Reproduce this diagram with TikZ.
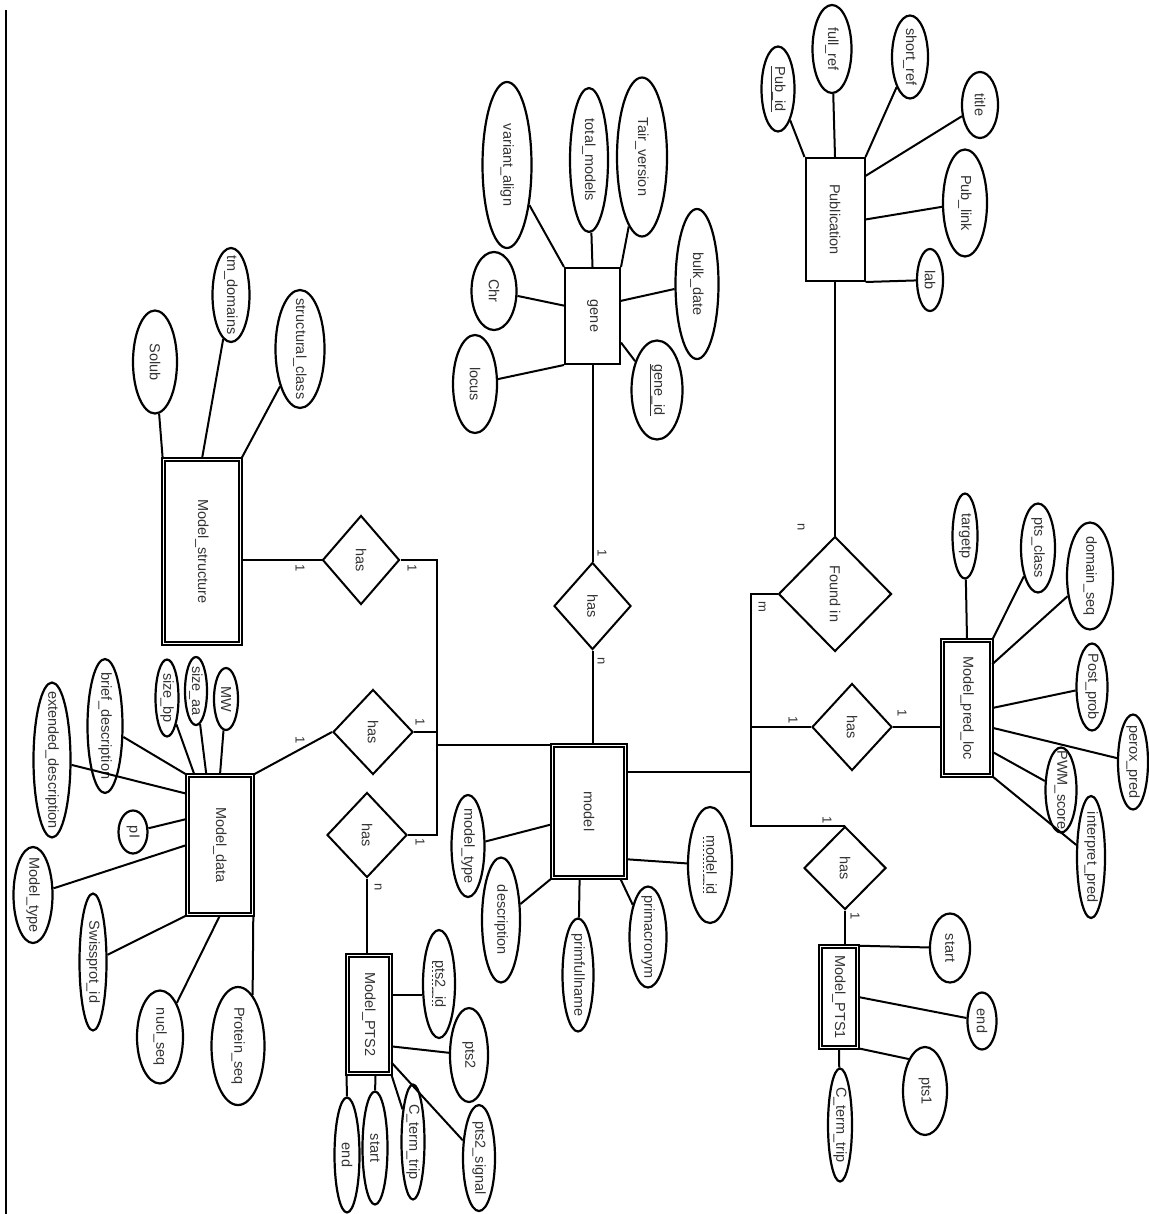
\documentclass[tikz,border=0pt]{standalone}
\usepackage{fontspec}
\setmainfont{Liberation Sans}
\usepackage{tikz}
\usetikzlibrary{shapes.geometric}

% dashed underline for partial keys
\newcommand{\dashul}[1]{\setbox0=\hbox{#1}\rlap{\raisebox{-3pt}{\hbox to \wd0{\xleaders\hbox to 4pt{\hss\rule{2pt}{0.8pt}\hss}\hfill}}}\box0}

\tikzset{
  vtxt/.style={rotate=-90, inner sep=0pt, text=black!80,
    font=\fontsize{14.5}{16}\selectfont},
  card/.style={vtxt, font=\fontsize{13}{14}\selectfont},
  entity/.style={draw, rectangle, line width=2pt, inner sep=0pt},
  weak/.style={entity, double, double distance=1.8pt, line width=1.6pt},
  attr/.style={draw, ellipse, line width=2.2pt, inner sep=0pt},
  rel/.style={draw, diamond, line width=2pt, inner sep=0pt},
}

\begin{document}
\begin{tikzpicture}[x=1pt, y=-1pt, line width=2pt]
  \useasboundingbox (0,0) rectangle (1148,1214);
  \draw (6,10) -- (6,1214);

  % entities
  \node[weak, minimum width=77, minimum height=184, label={[vtxt]center:Model\_structure}] (mstruct) at (202,551.5) {};
  \node[weak, minimum width=65, minimum height=139, label={[vtxt]center:Model\_data}] (mdata) at (220,845) {};
  \node[weak, minimum width=73, minimum height=132, label={[vtxt]center:model}] (model) at (589,811.5) {};
  \node[weak, minimum width=43, minimum height=118, label={[vtxt]center:Model\_PTS2}] (ptstwo) at (369,1014.5) {};
  \node[weak, minimum width=37, minimum height=101, label={[vtxt]center:Model\_PTS1}] (ptsone) at (839,997) {};
  \node[weak, minimum width=49, minimum height=135, label={[vtxt]center:Model\_pred\_loc}] (predloc) at (967,708) {};
  \node[entity, minimum width=55, minimum height=96, label={[vtxt]center:gene}] (gene) at (592.5,316) {};
  \node[entity, minimum width=59, minimum height=123, label={[vtxt]center:Publication}] (pub) at (835,219.5) {};

  % relationships
  \node[rel, minimum width=77, minimum height=89, label={[vtxt]center:has}] (hasS) at (361,560) {};
  \node[rel, minimum width=80, minimum height=85, label={[vtxt]center:has}] (hasD) at (373,732) {};
  \node[rel, minimum width=80, minimum height=85, label={[vtxt]center:has}] (hasP) at (367,835) {};
  \node[rel, minimum width=77, minimum height=87, label={[vtxt]center:has}] (hasG) at (592.5,606) {};
  \node[rel, minimum width=113, minimum height=115, label={[vtxt]center:Found in}] (found) at (835,594) {};
  \node[rel, minimum width=80, minimum height=87, label={[vtxt]center:has}] (hasL) at (852,727) {};
  \node[rel, minimum width=82, minimum height=83, label={[vtxt]center:has}] (hasT) at (845,868) {};

  % gene attributes
  \node[attr, minimum width=49, minimum height=166, label={[vtxt]center:variant\_align}] (varalign) at (507,165) {};
  \node[attr, minimum width=38, minimum height=144, label={[vtxt]center:total\_models}] (totmod) at (589,160) {};
  \node[attr, minimum width=50, minimum height=159, label={[vtxt]center:Tair\_version}] (tair) at (642,157) {};
  \node[attr, minimum width=45, minimum height=78, label={[vtxt]center:Chr}] (chr) at (494,291) {};
  \node[attr, minimum width=43, minimum height=150, label={[vtxt]center:bulk\_date}] (bulkdate) at (697,284) {};
  \node[attr, minimum width=44, minimum height=98, label={[vtxt]center:locus}] (locus) at (475,384) {};
  \node[attr, minimum width=51, minimum height=99, label={[vtxt]center:{\underline{gene\_id}}}] (geneid) at (657,390) {};

  % publication attributes
  \node[attr, minimum width=33, minimum height=85, label={[vtxt]center:{\underline{Pub\_id}}}] (pubid) at (778,89) {};
  \node[attr, minimum width=39, minimum height=88, label={[vtxt]center:full\_ref}] (fullref) at (832,49) {};
  \node[attr, minimum width=36, minimum height=83, label={[vtxt]center:short\_ref}] (shortref) at (910,57) {};
  \node[attr, minimum width=36, minimum height=66, label={[vtxt]center:title}] (title) at (980,105) {};
  \node[attr, minimum width=44, minimum height=107, label={[vtxt]center:Pub\_link}] (publink) at (965,203) {};
  \node[attr, minimum width=26, minimum height=62, label={[vtxt]center:lab}] (lab) at (930,280) {};

  % structure attributes
  \node[attr, minimum width=44, minimum height=103, label={[vtxt]center:Solub}] (solub) at (155,362) {};
  \node[attr, minimum width=37, minimum height=94, label={[vtxt]center:tm\_domains}] (tmdom) at (231,295) {};
  \node[attr, minimum width=49, minimum height=118, label={[vtxt]center:structural\_class}] (structcls) at (300,349) {};

  % model data attributes
  \node[attr, minimum width=24, minimum height=62, label={[vtxt]center:MW}] (mw) at (226,699) {};
  \node[attr, minimum width=22, minimum height=68, label={[vtxt]center:size\_aa}] (sizeaa) at (196,691) {};
  \node[attr, minimum width=23, minimum height=77, label={[vtxt]center:size\_bp}] (sizebp) at (167,698) {};
  \node[attr, minimum width=35, minimum height=134, label={[vtxt]center:brief\_description}] (briefdesc) at (105,726) {};
  \node[attr, minimum width=37, minimum height=155, label={[vtxt]center:extended\_description}] (extdesc) at (52,760) {};
  \node[attr, minimum width=29, minimum height=43, label={[vtxt]center:pI}] (pi) at (133,832) {};
  \node[attr, minimum width=39, minimum height=96, label={[vtxt]center:Model\_type}] (mtype) at (33,895) {};
  \node[attr, minimum width=27, minimum height=137, label={[vtxt]center:Swissprot\_id}] (swiss) at (93,962) {};
  \node[attr, minimum width=46, minimum height=93, label={[vtxt]center:nucl\_seq}] (nuclseq) at (160,1037) {};
  \node[attr, minimum width=53, minimum height=118, label={[vtxt]center:Protein\_seq}] (protseq) at (238,1046) {};

  % model attributes
  \node[attr, minimum width=33, minimum height=102, label={[vtxt]center:model\_type}] (modeltype) at (468,846) {};
  \node[attr, minimum width=38, minimum height=125, label={[vtxt]center:description}] (descr) at (501,920) {};
  \node[attr, minimum width=31, minimum height=113, label={[vtxt]center:primfullname}] (primfull) at (578,975) {};
  \node[attr, minimum width=37, minimum height=101, label={[vtxt]center:primacronym}] (primacr) at (648,937) {};
  \node[attr, minimum width=44, minimum height=116, label={[vtxt]center:{\dashul{model\_id}}}] (modelid) at (710,865) {};

  % PTS2 attributes
  \node[attr, minimum width=32, minimum height=108, label={[vtxt]center:{\dashul{pts2\_id}}}] (ptstwoid) at (439,984) {};
  \node[attr, minimum width=38, minimum height=94, label={[vtxt]center:pts2}] (ptstwoattr) at (469,1055) {};
  \node[attr, minimum width=32, minimum height=106, label={[vtxt]center:pts2\_signal}] (ptstwosig) at (479,1158) {};
  \node[attr, minimum width=23, minimum height=115, label={[vtxt]center:C\_term\_trip}] (ctermtwo) at (413,1142) {};
  \node[attr, minimum width=25, minimum height=113, label={[vtxt]center:start}] (starttwo) at (375,1148) {};
  \node[attr, minimum width=25, minimum height=115, label={[vtxt]center:end}] (endtwo) at (347,1155) {};

  % PTS1 attributes
  \node[attr, minimum width=40, minimum height=69, label={[vtxt]center:start}] (startone) at (950,948) {};
  \node[attr, minimum width=29, minimum height=57, label={[vtxt]center:end}] (endone) at (982,1021) {};
  \node[attr, minimum width=44, minimum height=88, label={[vtxt]center:pts1}] (ptsoneattr) at (925,1091) {};
  \node[attr, minimum width=24, minimum height=113, label={[vtxt]center:C\_term\_trip}] (ctermone) at (840,1125) {};

  % pred loc attributes
  \node[attr, minimum width=25, minimum height=85, label={[vtxt]center:targetp}] (targetp) at (965,536) {};
  \node[attr, minimum width=34, minimum height=89, label={[vtxt]center:pts\_class}] (ptsclass) at (1038,548) {};
  \node[attr, minimum width=46, minimum height=107, label={[vtxt]center:domain\_seq}] (domseq) at (1090,576) {};
  \node[attr, minimum width=31, minimum height=87, label={[vtxt]center:Post\_prob}] (postprob) at (1092,687) {};
  \node[attr, minimum width=30, minimum height=95, label={[vtxt]center:perox\_pred}] (peroxpred) at (1133,762) {};
  \node[attr, minimum width=31, minimum height=85, label={[vtxt]center:PWM\_score}] (pwm) at (1061,790) {};
  \node[attr, minimum width=28, minimum height=122, label={[vtxt]center:interpret\_pred}] (interp) at (1091,857) {};

  % cardinalities
  \node[card] (cS1) at (300,568) {1};
  \node[card] (cS2) at (412,568) {1};
  \node[card] (cD1) at (300,740) {1};
  \node[card] (cD2) at (420,722) {1};
  \node[card] (cP1) at (420,842) {1};
  \node[card] (cP2) at (378,887) {n};
  \node[card] (cG1) at (602,553) {1};
  \node[card] (cG2) at (601,661) {n};
  \node[card] (cF1) at (801,527) {n};
  \node[card] (cF2) at (762,607) {m};
  \node[card] (cL1) at (793,720) {1};
  \node[card] (cL2) at (902,713) {1};
  \node[card] (cT1) at (827,820) {1};
  \node[card] (cT2) at (855,916) {1};

  % relationship lines
  \draw (mstruct.east |- hasS.west) -- (hasS.west);
  \draw (hasS.east) -- ++(36,0) coordinate (busl) -- (busl |- hasP.east) -- (hasP.east);
  \draw (hasD.east) -- (hasD.east -| busl);
  \draw (model.north west) -- (model.north west -| busl);
  \draw (mdata.north east) -- (hasD.west);
  \draw (hasP.south) -- (hasP.south |- ptstwo.north);
  \draw (gene.south) -- (hasG.north);
  \draw (hasG.south) -- (hasG.south |- model.north);
  \draw (pub.south) -- (found.north);
  \draw (found.west) -- ++(-27,0) coordinate (busr) -- (busr |- hasT.north) -- (hasT.north);
  \draw (model.47) -- (model.47 -| busr);
  \draw (hasL.west) -- (hasL.west -| busr);
  \draw (hasL.east) -- (hasL.east -| predloc.west);
  \draw (hasT.south) -- (hasT.south |- ptsone.north);

  % attribute lines
  \draw (varalign) -- (gene.north west);
  \draw (totmod) -- (gene.north);
  \draw (tair) -- (gene.north east);
  \draw (chr) -- (gene.160);
  \draw (bulkdate) -- (gene.28);
  \draw (locus) -- (gene.south west);
  \draw (geneid) -- (gene.-43);

  \draw (pubid) -- (pub.north west);
  \draw (fullref) -- (pub.north);
  \draw (shortref) -- (pub.north east);
  \draw (title) -- (pub.55);
  \draw (publink) -- (pub.east);
  \draw (pub.south east) -- (lab);

  \draw (solub) -- (mstruct.north west);
  \draw (tmdom) -- (mstruct.north);
  \draw (structcls) -- (mstruct.north east);

  \draw (mw) -- (mdata.north);
  \draw (sizeaa) -- (mdata.101);
  \draw (sizebp) -- (mdata.110);
  \draw (briefdesc) -- (mdata.north west);
  \draw (extdesc) -- (mdata.123);
  \draw (pi) -- (mdata.142);
  \draw (mtype) -- (mdata.west);
  \draw (swiss) -- (mdata.south west);
  \draw (nuclseq) -- (mdata.south);
  \draw (mdata.south east) -- (protseq.74);

  \draw (modeltype) -- (model.199);
  \draw (descr) -- (model.south west);
  \draw (primfull) -- (model.262);
  \draw (primacr) -- (model.295);
  \draw (modelid) -- (model.-52);

  \draw (ptstwo.41) -- (ptstwo.41 -| ptstwoid.west);
  \draw (ptstwo.-55) -- (ptstwoattr);
  \draw (ptstwo.-65) -- (ptstwosig);
  \draw (ptstwo.south east) -- (ctermtwo);
  \draw (ptstwo.-84) -- (starttwo);
  \draw (ptstwo.south west) -- (endtwo);

  \draw (ptsone.north east) -- (startone);
  \draw (ptsone.east) -- (endone);
  \draw (ptsone.south east) -- (ptsoneattr.117);
  \draw (ptsone.south) -- (ctermone);

  \draw (targetp) -- (predloc.north);
  \draw (ptsclass) -- (predloc.north east);
  \draw (domseq) -- (predloc.60);
  \draw (postprob) -- (predloc.east);
  \draw (peroxpred) -- (predloc.-38);
  \draw (pwm) -- (predloc.-60);
  \draw (interp) -- (predloc.south east);
\end{tikzpicture}
\end{document}
